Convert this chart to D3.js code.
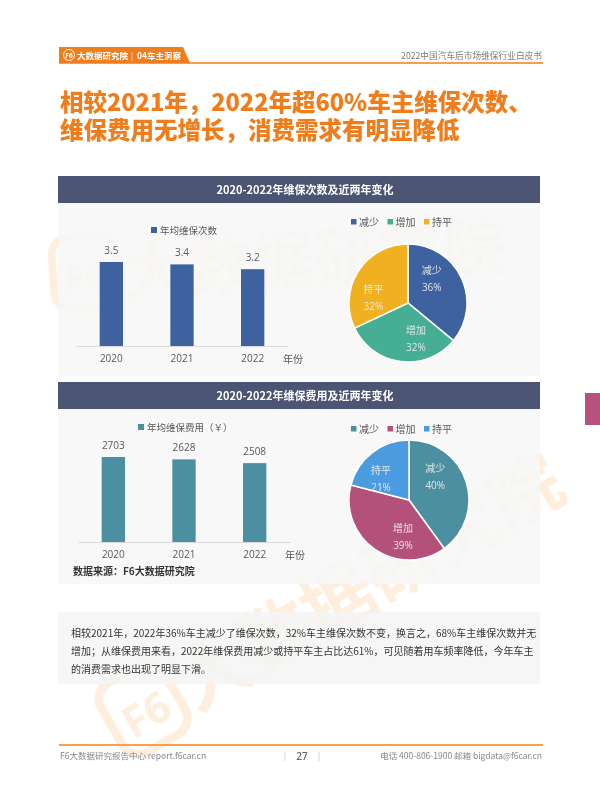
<!DOCTYPE html>
<html><head><meta charset="utf-8">
<script src="https://cdn.jsdelivr.net/npm/d3@7"></script>
<style>body{margin:0;background:#fff}svg{display:block}</style>
</head><body>
<svg id="c" width="600" height="809"></svg>
<script>
// ---- data ----
const years = ["2020", "2021", "2022"];
const visits = [3.5, 3.4, 3.2];
const costs = [2703, 2628, 2508];
const pieCats = ["减少", "增加", "持平"];
const visitShare = [36, 32, 32];
const costShare = [40, 39, 21];
const titleLines = ["相较2021年，2022年超60%车主维保次数、", "维保费用无增长，消费需求有明显降低"];
const chartTitles = ["2020-2022年维保次数及近两年变化", "2020-2022年维保费用及近两年变化"];
const barLegends = ["年均维保次数", "年均维保费用（￥）"];
const paraLines = [
  "相较2021年，2022年36%车主减少了维保次数，32%车主维保次数不变，换言之，68%车主维保次数并无",
  "增加；从维保费用来看，2022年维保费用减少或持平车主占比达61%，可见随着用车频率降低，今年车主",
  "的消费需求也出现了明显下滑。"
];

const F = "'Open Sans','Noto Sans CJK SC',sans-serif";
const FC = "'Noto Sans CJK SC','Noto Sans',sans-serif";
const svg = d3.select("#c");
const ORANGE = "#F07D1C";

// watermark
const wm = svg.append("g").attr("opacity", 0.17).attr("fill", "#F39A3A");
function mark(x, y, rot, size) {
  const g = wm.append("g").attr("transform", `translate(${x},${y}) rotate(${rot})`);
  g.append("rect").attr("x", -size * 1.1).attr("y", -size * 0.95).attr("width", size * 1.0).attr("height", size * 1.1)
    .attr("rx", size * 0.25).attr("fill", "none").attr("stroke", "#F39A3A").attr("stroke-width", size * 0.12);
  g.append("text").attr("x", -size * 0.6).attr("y", -size * 0.1).attr("text-anchor", "middle")
    .attr("font-family", F).attr("font-weight", 700).attr("font-size", size * 0.6).text("F6");
  g.append("text").attr("x", 0).attr("y", 0).attr("font-family", FC).attr("font-weight", 700)
    .attr("font-size", size).text("大数据研究院");
}
mark(125, 295, -4, 64);
mark(195, 712, -30, 72);

// header
svg.append("path").attr("d", "M59,47 L183,47 L190,63 L59,63 Z").attr("fill", ORANGE);
svg.append("line").attr("x1", 59).attr("x2", 543).attr("y1", 63).attr("y2", 63).attr("stroke", ORANGE).attr("stroke-width", 1.5);
svg.append("circle").attr("cx", 69).attr("cy", 55).attr("r", 5.5).attr("fill", "none").attr("stroke", "#fff").attr("stroke-width", 1);
svg.append("text").attr("x", 69).attr("y", 57.5).attr("text-anchor", "middle").attr("font-family", F).attr("font-size", 6.5).attr("font-weight", 700).attr("fill", "#fff").text("F6");
svg.append("text").attr("x", 77).attr("y", 58.5).attr("font-family", FC).attr("font-size", 8.5).attr("font-weight", 700).attr("fill", "#fff").text("大数据研究院");
svg.append("text").attr("x", 131).attr("y", 58.5).attr("font-family", FC).attr("font-size", 8).attr("fill", "#fde3c8").text("|");
svg.append("text").attr("x", 137).attr("y", 58.5).attr("font-family", FC).attr("font-size", 8.5).attr("font-weight", 700).attr("fill", "#fff").text("04车主洞察");
svg.append("text").attr("x", 542).attr("y", 59).attr("text-anchor", "end").attr("font-family", FC).attr("font-size", 8.7).attr("fill", "#7a7a7a").text("2022中国汽车后市场维保行业白皮书");

// title
titleLines.forEach((t, i) => {
  svg.append("text").attr("x", 60).attr("y", 111 + i * 28).attr("font-family", FC).attr("font-weight", 900)
    .attr("font-size", 23.5).attr("fill", ORANGE).text(t);
});

// panels
const panels = [{top: 176, bottom: 376}, {top: 382, bottom: 584}];
panels.forEach((p, i) => {
  svg.append("rect").attr("x", 58).attr("y", p.top).attr("width", 482).attr("height", p.bottom - p.top).attr("fill", "#f7f7f7").attr("fill-opacity", 0.85);
  svg.append("rect").attr("x", 58).attr("y", p.top).attr("width", 482).attr("height", 27).attr("fill", "#4B5472");
  svg.append("text").attr("x", 305).attr("y", p.top + 17.5).attr("text-anchor", "middle").attr("font-family", FC)
    .attr("font-weight", 700).attr("font-size", 11).attr("fill", "#fff").text(chartTitles[i]);
});

// bar charts
function barChart(values, color, yDomainMax, base, pxPerDomain, xRange, legendX, legendY, legendText) {
  const g = svg.append("g");
  const x = d3.scaleBand().domain(years).range(xRange).paddingInner(0.67).paddingOuter(0.335);
  const y = d3.scaleLinear().domain([0, yDomainMax]).range([base, base - pxPerDomain]);
  g.selectAll("rect.bar").data(values).join("rect").attr("class", "bar")
    .attr("x", (d, i) => x(years[i])).attr("width", x.bandwidth())
    .attr("y", d => y(d)).attr("height", d => base - y(d)).attr("fill", color);
  g.selectAll("text.val").data(values).join("text").attr("class", "val")
    .attr("x", (d, i) => x(years[i]) + x.bandwidth() / 2).attr("y", d => y(d) - 8)
    .attr("text-anchor", "middle").attr("font-family", F).attr("font-size", 10).attr("fill", "#595959").text(d => d);
  const ax = g.append("g").attr("transform", `translate(0,${base})`).call(d3.axisBottom(x).tickSize(0).tickPadding(9));
  ax.select(".domain").attr("stroke", "#d9d9d9");
  ax.selectAll("text").attr("font-family", F).attr("font-size", 10).attr("fill", "#595959");
  g.append("text").attr("x", xRange[1] - 5).attr("y", base + 17).attr("font-family", FC).attr("font-size", 10).attr("fill", "#595959").text("年份");
  g.append("rect").attr("x", legendX).attr("y", legendY - 3).attr("width", 6).attr("height", 6).attr("fill", color);
  g.append("text").attr("x", legendX + 9).attr("y", legendY + 3.5).attr("font-family", FC).attr("font-size", 9.5).attr("fill", "#595959").text(legendText);
}
barChart(visits, "#3E62A0", 3.5, 346, 84, [76, 288], 151, 230, barLegends[0]);
barChart(costs, "#4B8FA1", 2703, 542, 85, [78, 290], 138, 427, barLegends[1]);

// pies
function pieChart(values, colors, cx, cy, r, legendY) {
  const g = svg.append("g").attr("transform", `translate(${cx},${cy})`);
  const arcs = d3.pie().sort(null)(values);
  const arc = d3.arc().innerRadius(0).outerRadius(r);
  const lab = d3.arc().innerRadius(r * 0.6).outerRadius(r * 0.6);
  g.selectAll("path").data(arcs).join("path").attr("d", arc).attr("fill", (d, i) => colors[i])
    .attr("stroke", "#fff").attr("stroke-width", 1.5);
  arcs.forEach((a, i) => {
    // labels sit slightly toward the slice start, as in the reference
    const shifted = {startAngle: a.startAngle, endAngle: a.endAngle - (a.endAngle - a.startAngle) * 0.35};
    const [lx, ly] = lab.centroid(shifted);
    const t = g.append("text").attr("text-anchor", "middle").attr("font-family", FC).attr("font-size", 10).attr("fill", "#f0f0f0").attr("fill-opacity", 0.9);
    t.append("tspan").attr("x", lx).attr("y", ly - 3).text(pieCats[i]);
    t.append("tspan").attr("x", lx).attr("y", ly + 14).attr("font-family", F).text(values[i] + "%");
  });
  const lg = svg.append("g");
  pieCats.forEach((c, i) => {
    const lx = 351 + i * 36.5;
    lg.append("rect").attr("x", lx).attr("y", legendY - 3).attr("width", 5.5).attr("height", 5.5).attr("fill", colors[i]);
    lg.append("text").attr("x", lx + 8).attr("y", legendY + 3.5).attr("font-family", FC).attr("font-size", 10).attr("fill", "#595959").text(c);
  });
}
pieChart(visitShare, ["#3E62A0", "#45AE95", "#EFB11F"], 408, 303, 59, 222);
pieChart(costShare, ["#4B8FA1", "#B4517A", "#4A9BE0"], 409, 500, 60, 429);

// source
svg.append("text").attr("x", 73).attr("y", 575).attr("font-family", FC).attr("font-weight", 700).attr("font-size", 10).attr("fill", "#333").text("数据来源：F6大数据研究院");

// paragraph
svg.append("rect").attr("x", 58).attr("y", 612).attr("width", 482).attr("height", 72).attr("fill", "#f5f5f5").attr("fill-opacity", 0.85);
paraLines.forEach((t, i) => {
  svg.append("text").attr("x", 71).attr("y", 637 + i * 18).attr("font-family", FC).attr("font-size", 10).attr("fill", "#333").text(t);
});

// right tab
svg.append("rect").attr("x", 585).attr("y", 393).attr("width", 15).attr("height", 32).attr("fill", "#B8517F");

// footer
svg.append("line").attr("x1", 59).attr("x2", 543).attr("y1", 745).attr("y2", 745).attr("stroke", "#F5A04A").attr("stroke-width", 2);
svg.append("text").attr("x", 60).attr("y", 759).attr("font-family", FC).attr("font-size", 8.5).attr("fill", "#888").text("F6大数据研究报告中心 report.f6car.cn");
svg.append("text").attr("x", 302).attr("y", 760).attr("text-anchor", "middle").attr("font-family", F).attr("font-size", 10).attr("font-weight", 600).attr("fill", "#666").text("27");
[285, 319].forEach(x => svg.append("line").attr("x1", x).attr("x2", x).attr("y1", 752).attr("y2", 761).attr("stroke", "#ccc").attr("stroke-width", 0.8));
svg.append("text").attr("x", 542).attr("y", 759).attr("text-anchor", "end").attr("font-family", FC).attr("font-size", 8.5).attr("fill", "#888").text("电话 400-806-1900  邮箱 bigdata@f6car.cn");
</script>
</body></html>
